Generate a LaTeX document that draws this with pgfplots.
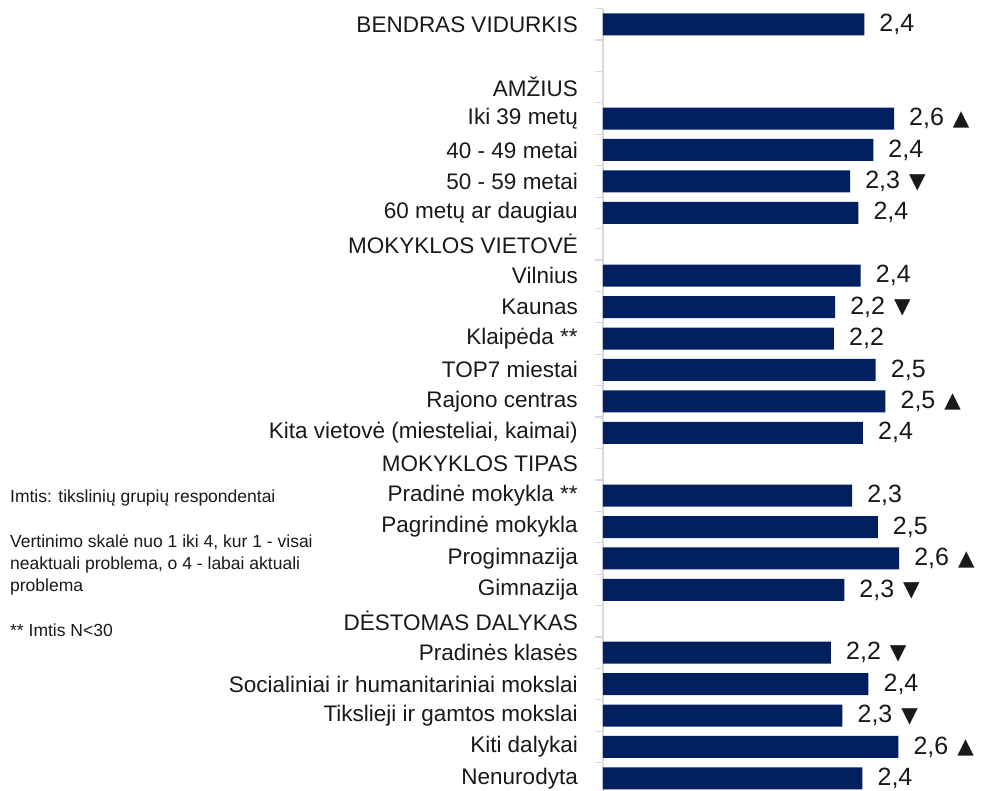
\documentclass[border=0pt]{standalone}
\usepackage{fontspec}
\setmainfont{Liberation Sans}
\newfontfamily\dejavu{DejaVu Sans}
\usepackage{pgfplots}
\pgfplotsset{compat=1.18}
\definecolor{navy}{HTML}{002060}
\definecolor{axgray}{HTML}{D9D9D9}
\newcommand{\up}{\hspace{9pt}\raisebox{0.5pt}{\dejavu\fontsize{21.5}{21.5}\selectfont ▲}}
\newcommand{\dn}{\hspace{9pt}\raisebox{0.5pt}{\dejavu\fontsize{21.5}{21.5}\selectfont ▼}}
\begin{document}
\begin{tikzpicture}[x=1pt,y=1pt]
\path[use as bounding box] (-603,4.1) rectangle (378,794.1);
\begin{axis}[
  at={(0,0)}, anchor=south west,
  scale only axis, width=378pt, height=785.5pt,
  xbar, bar width=22pt, bar shift=0pt,
  xmin=1, xmax=3.021,
  ymin=-0.5, ymax=24.5, y dir=reverse,
  axis x line=none,
  axis y line*=left,
  y axis line style={axgray, line width=1.5pt},
  ytick={0,...,24},
  yticklabels={BENDRAS VIDURKIS,,AMŽIUS,Iki 39 metų,40 - 49 metai,50 - 59 metai,60 metų ar daugiau,MOKYKLOS VIETOVĖ,Vilnius,Kaunas,Klaipėda **,TOP7 miestai,Rajono centras,{Kita vietovė (miesteliai, kaimai)},MOKYKLOS TIPAS,Pradinė mokykla **,Pagrindinė mokykla,Progimnazija,Gimnazija,DĖSTOMAS DALYKAS,Pradinės klasės,Socialiniai ir humanitariniai mokslai,Tikslieji ir gamtos mokslai,Kiti dalykai,Nenurodyta},
  major tick length=0pt,
  minor ytick={-0.5,0.5,...,24.5},
  minor tick length=8pt,
  tick align=outside,
  minor tick style={axgray, line width=1.2pt},
  yticklabel style={font=\fontsize{22.5}{27}\selectfont, anchor=east, inner sep=0pt, xshift=-25pt, text=black!90},
  point meta=explicit symbolic,
  nodes near coords={\pgfplotspointmeta},
  nodes near coords style={font=\fontsize{25}{30}\selectfont, anchor=west, inner sep=0pt, xshift=15pt, text=black!90},
]
\addplot[fill=navy, draw=none] coordinates {
  (2.397,0) [{2,4}]
  (2.556,3) [{2,6\up}]
  (2.445,4) [{2,4}]
  (2.321,5) [{2,3\dn}]
  (2.365,6) [{2,4}]
  (2.378,8) [{2,4}]
  (2.241,9) [{2,2\dn}]
  (2.235,10) [{2,2}]
  (2.458,11) [{2,5}]
  (2.510,12) [{2,5\up}]
  (2.390,13) [{2,4}]
  (2.332,15) [{2,3}]
  (2.469,16) [{2,5}]
  (2.583,17) [{2,6\up}]
  (2.290,18) [{2,3\dn}]
  (2.219,20) [{2,2\dn}]
  (2.419,21) [{2,4}]
  (2.280,22) [{2,3\dn}]
  (2.579,23) [{2,6\up}]
  (2.387,24) [{2,4}]
};
\end{axis}
\node[anchor=north west, inner sep=0pt, align=left, font=\fontsize{17.5}{22}\selectfont, text=black!90] at (-593,304)
  {Imtis: tikslinių grupių respondentai\\[23pt]
   Vertinimo skalė nuo 1 iki 4, kur 1 - visai\\
   neaktuali problema, o 4 - labai aktuali\\
   problema\\[23pt]
   ** Imtis N<30};
\end{tikzpicture}
\end{document}
